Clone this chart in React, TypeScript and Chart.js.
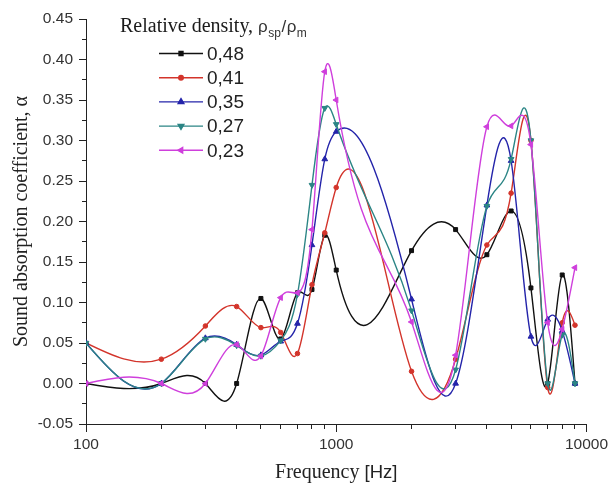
import React, { useEffect, useRef } from 'react';
import { Chart, registerables } from 'chart.js';
import { drawPoint } from 'chart.js/helpers';

Chart.register(...registerables);

// ---------- data ----------
const frequencies = [100, 200, 300, 400, 500, 600, 700, 800, 900, 1000, 2000, 3000, 4000, 5000, 6000, 7000, 8000, 9000];
const seriesLabels = ['0,48', '0,41', '0,35', '0,27', '0,23'];
const density048 = [0.0, 0.0, 0.0, 0.0, 0.105, 0.055, 0.112, 0.116, 0.183, 0.14, 0.164, 0.19, 0.159, 0.213, 0.118, 0.0, 0.134, 0.0];
const density041 = [0.05, 0.03, 0.071, 0.095, 0.069, 0.063, 0.037, 0.122, 0.186, 0.242, 0.015, 0.03, 0.171, 0.235, 0.3, -0.005, 0.075, 0.072];
const density035 = [0.05, 0.0, 0.056, 0.048, 0.035, 0.052, 0.074, 0.171, 0.277, 0.311, 0.104, 0.0, 0.22, 0.275, 0.058, 0.079, 0.065, 0.0];
const density027 = [0.05, 0.0, 0.055, 0.047, 0.034, 0.053, 0.11, 0.245, 0.34, 0.32, 0.09, 0.017, 0.219, 0.277, 0.3, 0.0, 0.06, 0.0];
const density023 = [0.0, 0.0, 0.0, 0.048, 0.034, 0.106, 0.112, 0.19, 0.385, 0.35, 0.076, 0.035, 0.317, 0.318, 0.295, 0.075, 0.067, 0.143];
const seriesValues = [density048, density041, density035, density027, density023];
const xTickLabels = [100, 1000, 10000];
const yMin = -0.05;
const yMax = 0.45;
const yMinorStep = 0.025;

const xTitleMain = 'Frequency';
const xTitleUnit = '[Hz]';
const yTitle = 'Sound absorption coefficient, \u03b1';
const legendTitle = 'Relative density,';

// ---------- styles ----------
const seriesColors = ['#111111', '#d3342b', '#2424aa', '#2b8585', '#cf3fdc'];
const seriesPointStyles = ['rect', 'circle', 'triangle', 'triangle', 'triangle'];
const seriesRotations = [0, 0, 0, 180, 270];
const seriesRadii = [2.8, 2.3, 3.3, 3.3, 3.3];

const SERIF = '"Liberation Serif", "Times New Roman", serif';
const SANS = '"Liberation Sans", Arial, sans-serif';

// natural cubic spline through the points (in pixel space), fed into Chart.js bezier control points
const naturalSplinePlugin = {
  id: 'naturalSpline',
  afterDatasetsUpdate(chart: any) {
    chart.data.datasets.forEach((_ds: any, di: number) => {
      const meta = chart.getDatasetMeta(di);
      const pts = meta.data as any[];
      const n = pts.length;
      if (n < 3) return;
      const x = pts.map((p) => p.x);
      const y = pts.map((p) => p.y);
      const h: number[] = [];
      for (let i = 0; i < n - 1; i++) h.push(x[i + 1] - x[i]);
      const m = n - 2;
      const a: number[] = [], b: number[] = [], c: number[] = [], d: number[] = [];
      for (let i = 1; i < n - 1; i++) {
        a.push(h[i - 1]);
        b.push(2 * (h[i - 1] + h[i]));
        c.push(h[i]);
        d.push(6 * ((y[i + 1] - y[i]) / h[i] - (y[i] - y[i - 1]) / h[i - 1]));
      }
      const cp = new Array(m).fill(0);
      const dp = new Array(m).fill(0);
      cp[0] = c[0] / b[0];
      dp[0] = d[0] / b[0];
      for (let i = 1; i < m; i++) {
        const den = b[i] - a[i] * cp[i - 1];
        cp[i] = c[i] / den;
        dp[i] = (d[i] - a[i] * dp[i - 1]) / den;
      }
      const M = new Array(n).fill(0);
      M[m] = dp[m - 1];
      for (let i = m - 2; i >= 0; i--) M[i + 1] = dp[i] - cp[i] * M[i + 2];
      const slope = new Array(n).fill(0);
      for (let i = 0; i < n - 1; i++) {
        slope[i] = (y[i + 1] - y[i]) / h[i] - (h[i] * (2 * M[i] + M[i + 1])) / 6;
      }
      slope[n - 1] = (y[n - 1] - y[n - 2]) / h[n - 2] + (h[n - 2] * (M[n - 2] + 2 * M[n - 1])) / 6;
      for (let i = 0; i < n; i++) {
        const p = pts[i];
        const hl = i > 0 ? h[i - 1] : 0;
        const hr = i < n - 1 ? h[i] : 0;
        p.cp1x = x[i] - hl / 3;
        p.cp1y = y[i] - (slope[i] * hl) / 3;
        p.cp2x = x[i] + hr / 3;
        p.cp2y = y[i] + (slope[i] * hr) / 3;
      }
      if (meta.dataset) meta.dataset._pointsUpdated = true;
    });
  },
};

// x-axis title with a serif word and a sans-serif unit, centred under the x scale
const xTitlePlugin = {
  id: 'xTitleMixed',
  afterDraw(chart: any) {
    const ctx = chart.ctx as CanvasRenderingContext2D;
    const xs = chart.scales.x;
    ctx.save();
    ctx.fillStyle = '#222';
    ctx.textBaseline = 'alphabetic';
    ctx.textAlign = 'left';
    const f1 = `20px ${SERIF}`;
    const f2 = `18.5px ${SANS}`;
    ctx.font = f1;
    const w1 = ctx.measureText(xTitleMain + ' ').width;
    ctx.font = f2;
    const w2 = ctx.measureText(xTitleUnit).width;
    const cx = (xs.left + xs.right) / 2;
    const x0 = cx - (w1 + w2) / 2;
    const base = xs.bottom - 11;
    ctx.font = f1;
    ctx.fillText(xTitleMain + ' ', x0, base);
    ctx.font = f2;
    ctx.fillText(xTitleUnit, x0 + w1, base);
    ctx.restore();
  },
};

// Origin-style legend inside the plot area
const originLegendPlugin = {
  id: 'originLegend',
  afterDatasetsDraw(chart: any) {
    const ctx = chart.ctx as CanvasRenderingContext2D;
    const area = chart.chartArea;
    const tx = area.left + 34;
    const ty = area.top + 13;
    ctx.save();
    ctx.fillStyle = '#1a1a1a';
    ctx.textBaseline = 'alphabetic';
    ctx.textAlign = 'left';
    ctx.font = `20px ${SERIF}`;
    ctx.fillText(legendTitle, tx, ty);
    let cx = tx + ctx.measureText(legendTitle).width + 5;
    const big = `17px ${SANS}`;
    const small = `12px ${SANS}`;
    const parts: [string, string, number][] = [
      ['\u03c1', big, 0],
      ['sp', small, 5],
      ['/', big, 0],
      ['\u03c1', big, 0],
      ['m', small, 5],
    ];
    ctx.fillStyle = '#333';
    parts.forEach(([t, f, dy]) => {
      ctx.font = f;
      ctx.fillText(t, cx, ty + dy);
      cx += ctx.measureText(t).width + 0.5;
    });

    const lineX0 = area.left + 73;
    const lineX1 = lineX0 + 44;
    const rowY0 = area.top + 34.5;
    const rowStep = 24.2;
    chart.data.datasets.forEach((ds: any, i: number) => {
      const yy = rowY0 + i * rowStep;
      ctx.strokeStyle = ds.borderColor;
      ctx.lineWidth = ds.borderWidth;
      ctx.beginPath();
      ctx.moveTo(lineX0, yy);
      ctx.lineTo(lineX1, yy);
      ctx.stroke();
      ctx.fillStyle = ds.pointBackgroundColor;
      ctx.strokeStyle = ds.pointBorderColor;
      drawPoint(ctx, {
        pointStyle: ds.pointStyle,
        rotation: ds.pointRotation,
        radius: ds.pointRadius,
        borderWidth: 1,
      } as any, (lineX0 + lineX1) / 2, yy);
      ctx.fillStyle = '#222';
      ctx.font = `19px ${SANS}`;
      ctx.textBaseline = 'middle';
      ctx.fillText(ds.label, lineX1 + 4, yy + 1);
    });
    ctx.restore();
  },
};

const isDecade = (v: number) => {
  const e = Math.log10(v);
  return Math.abs(e - Math.round(e)) < 1e-9;
};

export default function App() {
  const canvasRef = useRef<HTMLCanvasElement | null>(null);

  useEffect(() => {
    if (!canvasRef.current) return;
    const datasets = seriesValues.map((vals, i) => ({
      label: seriesLabels[i],
      data: frequencies.map((f, j) => ({ x: f, y: vals[j] })),
      borderColor: seriesColors[i],
      backgroundColor: seriesColors[i],
      pointBackgroundColor: seriesColors[i],
      pointBorderColor: seriesColors[i],
      pointStyle: seriesPointStyles[i],
      pointRotation: seriesRotations[i],
      pointRadius: seriesRadii[i],
      pointBorderWidth: 1,
      borderWidth: 1.4,
      tension: 0.4,
      fill: false,
      order: seriesValues.length - 1 - i,
    }));

    const chart = new Chart(canvasRef.current, {
      type: 'line',
      data: { datasets },
      plugins: [naturalSplinePlugin, originLegendPlugin, xTitlePlugin],
      options: {
        animation: false,
        responsive: false,
        devicePixelRatio: 1,
        layout: { padding: { top: 19, right: 21, bottom: 0, left: 0 } },
        plugins: {
          legend: { display: false },
          title: { display: false },
          tooltip: { enabled: false },
        },
        scales: {
          x: {
            type: 'logarithmic',
            min: 100,
            max: 10000,
            afterFit: (s: any) => { s.height = 65; },
            afterBuildTicks: (s: any) => {
              s.ticks = s.ticks.filter((t: any) => {
                const e = Math.pow(10, Math.floor(Math.log10(t.value) + 1e-9));
                const q = t.value / e;
                return Math.abs(q - Math.round(q)) < 1e-6;
              });
            },
            border: { display: true, color: '#222', width: 1 },
            grid: {
              display: true,
              drawOnChartArea: false,
              drawTicks: true,
              tickLength: 8,
              tickColor: '#222',
              tickWidth: 1,
              tickBorderDash: (c: any) => (c.tick && isDecade(c.tick.value) ? [] : [4, 100]),
            },
            ticks: {
              autoSkip: false,
              maxRotation: 0,
              minRotation: 0,
              padding: 3,
              color: '#333',
              font: { family: SANS, size: 15.5 },
              major: { enabled: false },
              callback: (v: any) => (xTickLabels.includes(Number(v)) ? String(v) : ''),
            },
            title: { display: false },
          },
          y: {
            type: 'linear',
            min: yMin,
            max: yMax,
            afterFit: (s: any) => { s.width = 86; },
            border: { display: true, color: '#222', width: 1 },
            grid: {
              display: true,
              drawOnChartArea: false,
              drawTicks: true,
              tickLength: 7,
              tickColor: '#222',
              tickWidth: 1,
              tickBorderDash: (c: any) =>
                c.tick && Math.round(c.tick.value / yMinorStep) % 2 !== 0 ? [0, 3, 4, 100] : [],
            },
            ticks: {
              stepSize: yMinorStep,
              autoSkip: false,
              padding: 6,
              color: '#333',
              font: { family: SANS, size: 15.5 },
              callback: (v: any) => (Math.round(Number(v) / yMinorStep) % 2 === 0 ? Number(v).toFixed(2) : ''),
            },
            title: {
              display: true,
              text: yTitle,
              color: '#222',
              font: { family: SERIF, size: 20 },
              padding: { top: 10, bottom: 0 },
            },
          },
        },
      } as any,
    });
    return () => chart.destroy();
  }, []);

  return (
    <div style={{ position: 'absolute', left: 0, top: 0, width: 611, height: 489, background: '#fff' }}>
      <canvas ref={canvasRef} width={611} height={489} style={{ display: 'block', width: 611, height: 489 }} />
    </div>
  );
}
